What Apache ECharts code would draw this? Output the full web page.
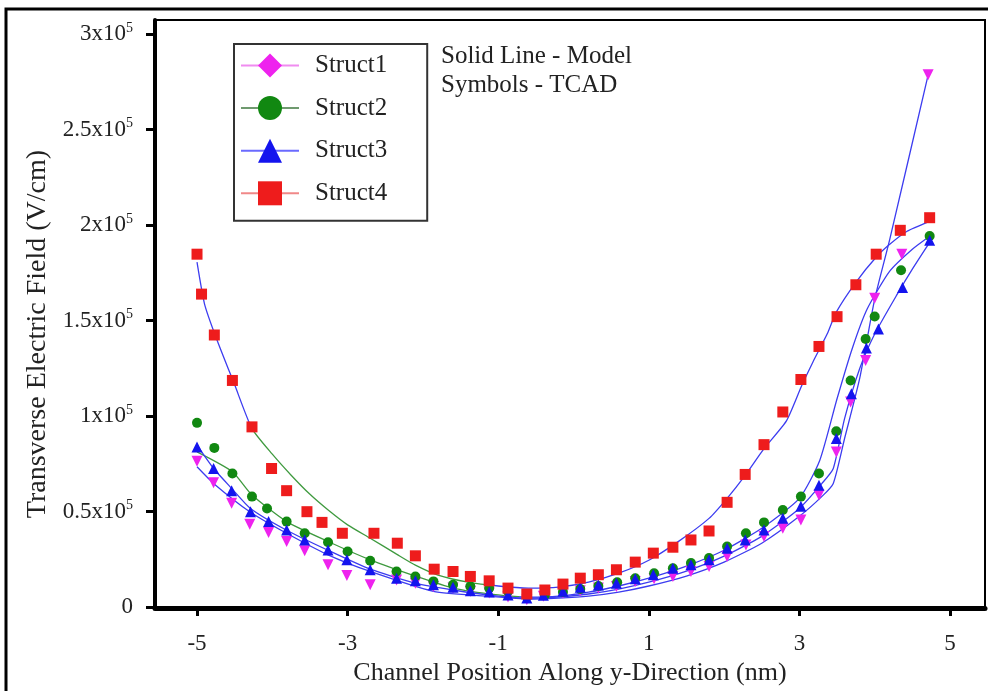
<!DOCTYPE html>
<html><head><meta charset="utf-8">
<script src="https://cdn.jsdelivr.net/npm/echarts@6/dist/echarts.min.js"></script>
<style>html,body{margin:0;padding:0;background:#fff}#c{width:988px;height:691px}</style>
</head><body><div id="c"></div>
<script>
// ---------- tick labels ----------
const xTicks = [-5, -3, -1, 1, 3, 5];
const xTickLabels = ['-5', '-3', '-1', '1', '3', '5'];
const yTicks = [0, 0.5, 1, 1.5, 2, 2.5, 3];               // units of 10^5 V/cm
const yTickLabels = ['0', '0.5x10^5', '1x10^5', '1.5x10^5', '2x10^5', '2.5x10^5', '3x10^5'];

// ---------- TCAD symbols (x in nm, E in 10^5 V/cm) ----------
const x1 = [-5.0,-4.78,-4.54,-4.30,-4.05,-3.81,-3.57,-3.26,-3.01,-2.70,-2.35,-2.10,-1.86,-1.60,-1.37,-1.12,-0.87,-0.62,-0.40,-0.14,0.09,0.33,0.57,0.82,1.07,1.32,1.56,1.80,2.04,2.29,2.53,2.78,3.02,3.26,3.49,3.68,3.88,4.00,4.36,4.71];
const y1 = [0.763,0.651,0.543,0.433,0.390,0.343,0.294,0.221,0.165,0.116,0.142,0.125,0.108,0.099,0.082,0.073,0.052,0.038,0.056,0.073,0.085,0.099,0.108,0.134,0.148,0.160,0.186,0.212,0.265,0.325,0.369,0.412,0.455,0.586,0.812,1.073,1.290,1.617,1.847,2.786];

const x2 = [-5.0,-4.77,-4.53,-4.27,-4.07,-3.81,-3.57,-3.26,-3.00,-2.70,-2.35,-2.10,-1.86,-1.60,-1.37,-1.12,-0.87,-0.62,-0.38,-0.14,0.09,0.33,0.58,0.82,1.07,1.32,1.56,1.80,2.04,2.29,2.53,2.78,3.02,3.26,3.49,3.68,3.88,4.00,4.35,4.73];
const y2 = [0.964,0.833,0.699,0.578,0.516,0.447,0.386,0.339,0.291,0.242,0.186,0.160,0.134,0.116,0.108,0.099,0.083,0.057,0.063,0.078,0.094,0.110,0.130,0.151,0.177,0.203,0.230,0.256,0.317,0.386,0.443,0.508,0.578,0.699,0.920,1.186,1.403,1.521,1.763,1.942];

const x3 = [-5.0,-4.78,-4.54,-4.29,-4.05,-3.81,-3.57,-3.26,-3.01,-2.70,-2.35,-2.10,-1.86,-1.60,-1.37,-1.12,-0.87,-0.62,-0.40,-0.14,0.09,0.33,0.57,0.82,1.06,1.32,1.56,1.80,2.04,2.28,2.53,2.78,3.02,3.26,3.49,3.69,3.89,4.05,4.37,4.73];
const y3 = [0.838,0.725,0.609,0.499,0.447,0.403,0.351,0.299,0.247,0.195,0.151,0.137,0.116,0.103,0.085,0.078,0.063,0.047,0.061,0.082,0.104,0.115,0.125,0.148,0.169,0.203,0.221,0.247,0.308,0.351,0.403,0.464,0.527,0.638,0.882,1.116,1.356,1.455,1.673,1.920];

const x4 = [-5.0,-4.94,-4.77,-4.53,-4.27,-4.01,-3.81,-3.54,-3.34,-3.07,-2.65,-2.34,-2.10,-1.85,-1.60,-1.37,-1.12,-0.87,-0.62,-0.38,-0.14,0.09,0.33,0.57,0.82,1.06,1.32,1.56,1.80,2.04,2.28,2.53,2.78,3.02,3.26,3.50,3.75,4.02,4.34,4.73];
const y4 = [1.847,1.638,1.424,1.186,0.943,0.725,0.609,0.499,0.443,0.386,0.386,0.334,0.268,0.198,0.186,0.160,0.137,0.099,0.068,0.089,0.120,0.151,0.169,0.195,0.235,0.282,0.313,0.351,0.398,0.548,0.694,0.850,1.021,1.191,1.364,1.520,1.687,1.847,1.972,2.038];

// ---------- Model (solid lines) ----------
const mx1 = [-5.0,-4.78,-4.3,-3.81,-3.26,-2.7,-1.86,-1.12,-0.6,-0.2,0.2,0.6,1.0,1.5,2.0,2.5,3.0,3.3,3.45,3.6,3.8,4.0,4.2,4.71];
const my1 = [0.734,0.647,0.499,0.386,0.273,0.186,0.082,0.056,0.042,0.047,0.057,0.078,0.110,0.162,0.235,0.334,0.475,0.579,0.647,0.882,1.195,1.612,1.925,2.786];

const mx2 = [-5.0,-4.53,-4.27,-3.81,-3.26,-2.7,-2.1,-1.6,-1.0,-0.6,-0.2,0.2,0.6,1.0,1.5,2.0,2.5,3.0,3.27,3.5,3.7,3.9,4.2,4.5,4.73];
const my2 = [0.812,0.708,0.586,0.447,0.343,0.247,0.162,0.099,0.063,0.052,0.057,0.078,0.110,0.151,0.214,0.297,0.412,0.569,0.767,1.090,1.351,1.560,1.758,1.873,1.941];

const mx3 = [-5.0,-4.78,-4.54,-4.29,-3.81,-3.26,-2.7,-2.1,-1.6,-1.0,-0.6,-0.2,0.2,0.6,1.0,1.5,2.0,2.5,3.0,3.3,3.45,3.6,3.8,4.0,4.3,4.5,4.73];
const my3 = [0.847,0.725,0.621,0.516,0.402,0.297,0.198,0.125,0.089,0.057,0.047,0.052,0.068,0.094,0.130,0.188,0.266,0.370,0.516,0.647,0.725,0.986,1.247,1.429,1.638,1.769,1.909];

const mx4 = [-5.0,-4.9,-4.75,-4.5,-4.27,-4.0,-3.75,-3.5,-3.25,-3.0,-2.7,-2.35,-2.1,-1.8,-1.4,-1.0,-0.6,-0.2,0.2,0.6,1.0,1.4,1.8,2.04,2.28,2.53,2.83,3.03,3.18,3.37,3.49,3.75,4.03,4.2,4.43,4.73];
const my4 = [1.805,1.586,1.414,1.163,0.934,0.800,0.690,0.590,0.505,0.430,0.360,0.277,0.219,0.167,0.130,0.110,0.099,0.104,0.130,0.177,0.245,0.345,0.464,0.569,0.689,0.829,0.976,1.158,1.283,1.430,1.544,1.700,1.836,1.899,1.967,2.019];

// ---------- build ----------
const FONT = 'Liberation Serif';
const zip = (a, b) => a.map((v, i) => [v, b[i]]);
const invTri = 'path://M0,0L10,0L5,10Z';
const BLUE_LINE = '#3c3cf0';
const GREEN_LINE = '#3f9a3f';

function tcad(name, xs, ys, symbol, color, size, perItemSymbol) {
  return {
    name, type: 'line', symbol, symbolSize: size, showSymbol: true, showAllSymbol: true,
    data: xs.map((v, i) => perItemSymbol ? { value: [v, ys[i]], symbol: perItemSymbol } : [v, ys[i]]),
    itemStyle: { color }, lineStyle: { opacity: 0, width: 0.01 }, z: 3, silent: true
  };
}
function model(name, xs, ys, color) {
  return {
    name, type: 'line', data: zip(xs, ys), symbol: 'none', showSymbol: false,
    smooth: 0.2, lineStyle: { color, width: 1.3 }, z: 2, silent: true
  };
}
function hardGrad(stops) {
  const cs = [];
  stops.forEach(s => {
    cs.push({ offset: s[0], color: s[2] });
    cs.push({ offset: s[1], color: s[2] });
  });
  return { type: 'linear', x: 0, y: 0, x2: 1, y2: 0, colorStops: cs };
}

const chart = echarts.init(document.getElementById('c'), null, { renderer: 'canvas' });
chart.setOption({
  animation: false,
  backgroundColor: '#fff',
  grid: { left: 155, right: 3, top: 20, bottom: 81, show: true, borderColor: '#000', borderWidth: 2, containLabel: false },
  xAxis: {
    type: 'value', min: -5.558, max: 5.465,
    axisLine: { show: true, onZero: false, lineStyle: { color: '#000', width: 5 } },
    axisTick: { show: true, customValues: xTicks, length: 8, lineStyle: { color: '#000', width: 3 } },
    axisLabel: { customValues: xTicks, fontSize: 23, fontFamily: FONT, color: '#222', margin: 24,
      formatter: v => { const i = xTicks.findIndex(t => Math.abs(t - v) < 1e-9); return i >= 0 ? xTickLabels[i] : ''; } },
    splitLine: { show: false },
    name: 'Channel Position Along y-Direction (nm)', nameLocation: 'middle', nameGap: 52,
    nameTextStyle: { fontSize: 26, fontFamily: FONT, color: '#222' }
  },
  yAxis: {
    type: 'value', min: -0.0052, max: 3.073,
    axisLine: { show: true, onZero: false, lineStyle: { color: '#000', width: 4 } },
    axisTick: { show: true, customValues: yTicks, length: 9, lineStyle: { color: '#000', width: 3 } },
    axisLabel: { customValues: yTicks, margin: 22, color: '#222',
      formatter: v => {
        const i = yTicks.findIndex(t => Math.abs(t - v) < 1e-9);
        if (i < 0) return '';
        const parts = yTickLabels[i].split('^');
        return parts.length > 1 ? '{b|' + parts[0] + '}{s|' + parts[1] + '}' : '{b|' + parts[0] + '}';
      },
      rich: {
        b: { fontSize: 23, fontFamily: FONT, color: '#222', lineHeight: 26 },
        s: { fontSize: 14, fontFamily: FONT, color: '#222', verticalAlign: 'top', lineHeight: 26, padding: [0, 0, 10, 0] }
      } },
    splitLine: { show: false },
    name: 'Transverse Electric Field (V/cm)', nameLocation: 'middle', nameGap: 102,
    nameTextStyle: { fontSize: 28, fontFamily: FONT, color: '#222', padding: [0, 40, 0, 0] }
  },
  legend: {
    left: 234, top: 44, orient: 'vertical', backgroundColor: '#fff',
    borderColor: '#333', borderWidth: 2, padding: [9, 40, 15, 6],
    itemWidth: 58, itemHeight: 30, itemGap: 17.6,
    textStyle: { fontSize: 25, fontFamily: FONT, color: '#222', padding: [0, 0, 0, 11] },
    data: [
      { name: 'Struct1', lineStyle: { color: '#f08cf0', width: 2, opacity: 1 } },
      { name: 'Struct2', lineStyle: { color: '#6f9a6f', width: 2, opacity: 1 } },
      { name: 'Struct3', lineStyle: { color: '#6a6aff', width: 2, opacity: 1 } },
      { name: 'Struct4', lineStyle: { color: '#f08888', width: 2, opacity: 1 } }
    ],
    selectedMode: false
  },
  graphic: [
    { type: 'rect', z: 100, silent: true, shape: { x: 6, y: 9, width: 1100, height: 800 }, style: { fill: 'none', stroke: '#000', lineWidth: 3 } },
    { type: 'text', z: 100, x: 441, y: 56, style: { text: 'Solid Line - Model', fontSize: 25, fontFamily: FONT, fill: '#222', verticalAlign: 'middle' } },
    { type: 'text', z: 100, x: 441, y: 85, style: { text: 'Symbols - TCAD', fontSize: 25, fontFamily: FONT, fill: '#222', verticalAlign: 'middle' } }
  ],
  series: [
    model('Model Struct1', mx1, my1, BLUE_LINE),
    model('Model Struct2', mx2, my2, hardGrad([[0, 0.44, GREEN_LINE], [0.441, 1, BLUE_LINE]])),
    model('Model Struct3', mx3, my3, BLUE_LINE),
    model('Model Struct4', mx4, my4, hardGrad([[0, 0.075, BLUE_LINE], [0.076, 0.40, GREEN_LINE], [0.401, 1, BLUE_LINE]])),
    tcad('Struct1', x1, y1, 'diamond', '#ee22ee', 11, invTri),
    tcad('Struct2', x2, y2, 'circle', '#118811', 10),
    tcad('Struct3', x3, y3, 'triangle', '#1414ee', 11),
    tcad('Struct4', x4, y4, 'rect', '#ee1c1c', 11)
  ]
});
</script></body></html>
